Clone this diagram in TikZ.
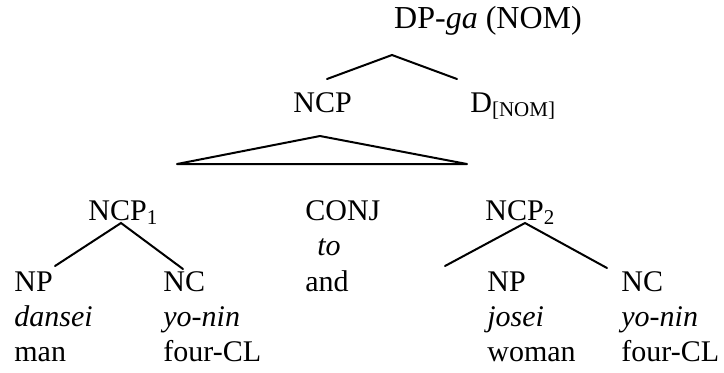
\documentclass[tikz,border=0pt]{standalone}
\usepackage{fontspec}
\setmainfont{Liberation Serif}
\usetikzlibrary{positioning}
\tikzset{lbl/.style={inner sep=0pt,anchor=base west}}
\tikzset{branch/.style={line width=1pt,line cap=round}}

\begin{document}
\begin{tikzpicture}[x=0.5pt,y=-0.5pt,font=\fontsize{15}{17.5}\selectfont]
                    \useasboundingbox (0,0) rectangle (724,372);
                    % top of the tree
                    \node[lbl,anchor=base,font=\fontsize{16}{18}\selectfont] (dp) at (488,28) {DP-\textit{ga} (NOM)};
                    \node[lbl] (ncp) at (293,112) {NCP};
                    \node[lbl] (d)   at (470,112) {D\textsubscript{[NOM]}};
                    % conjuncts
                    \node[lbl] (ncp1) at (88,220)  {NCP\textsubscript{1}};
                    \node[lbl] (conj) at (305,220) {CONJ};
                    \node[lbl] (ncp2) at (485,220) {NCP\textsubscript{2}};
                    \node[lbl] (to)   at (317,255) {\textit{to}};
                    \node[lbl] (and)  at (305,291) {and};
                    % leaves
                    \node[lbl] (np1)  at (14,291)  {NP};
                    \node[lbl] (nc1)  at (163,291) {NC};
                    \node[lbl] (np2)  at (487,291) {NP};
                    \node[lbl] (nc2)  at (621,291) {NC};
                    \node[lbl] (dansei) at (14,326)  {\textit{dansei}};
                    \node[lbl] (yonin1) at (163,326) {\textit{yo-nin}};
                    \node[lbl] (josei)  at (487,326) {\textit{josei}};
                    \node[lbl] (yonin2) at (621,326) {\textit{yo-nin}};
                    \node[lbl] (man)    at (14,361)  {man};
                    \node[lbl] (fourcl1) at (163,361) {four-CL};
                    \node[lbl] (woman)  at (487,361) {woman};
                    \node[lbl] (fourcl2) at (621,361) {four-CL};
                    % branch points
                    \coordinate (dp-b)   at (392,55);
                    \coordinate (ncp-t)  at (327,79);
                    \coordinate (d-t)    at (457,79);
                    \coordinate (tri-t)  at (320,136);
                    \coordinate (tri-l)  at (177,164);
                    \coordinate (tri-r)  at (467,164);
                    \coordinate (ncp1-b) at (121,223);
                    \coordinate (np1-t)  at (55,266);
                    \coordinate (nc1-t)  at (183,269);
                    \coordinate (ncp2-b) at (525,223);
                    \coordinate (np2-t)  at (445,266);
                    \coordinate (nc2-t)  at (607,268);
                    \draw[branch] (ncp-t) -- (dp-b) -- (d-t);
                    \draw[branch,line join=round] (tri-t) -- (tri-l) -- (tri-r) -- cycle;
                    \draw[branch] (np1-t) -- (ncp1-b) -- (nc1-t);
                    \draw[branch] (np2-t) -- (ncp2-b) -- (nc2-t);
                \end{tikzpicture}
\end{document}
